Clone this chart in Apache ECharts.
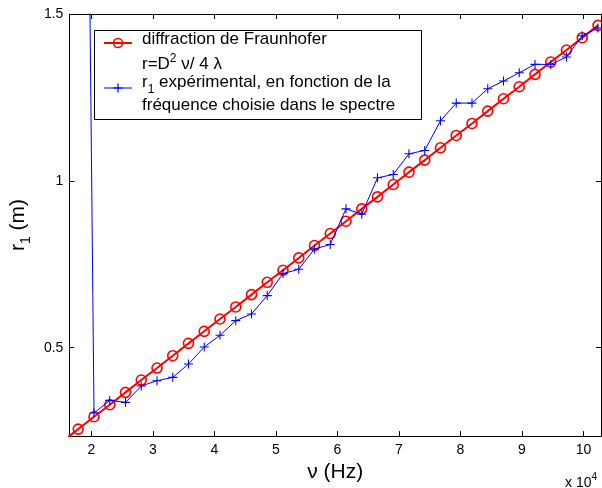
<!DOCTYPE html>
<html><head><meta charset="utf-8">
<script src="https://cdn.jsdelivr.net/npm/echarts@6/dist/echarts.min.js"></script>
<style>html,body{margin:0;padding:0;background:#fff}#c{width:602px;height:488px}</style>
</head><body><div id="c"></div>
<script>
// Frequencies (x 10^4 Hz)
const freqTheory = [1.531, 1.787, 2.043, 2.299, 2.555, 2.811, 3.067, 3.323, 3.579, 3.835, 4.091, 4.347, 4.603, 4.859, 5.115, 5.371, 5.627, 5.883, 6.139, 6.395, 6.651, 6.907, 7.163, 7.419, 7.675, 7.931, 8.187, 8.443, 8.699, 8.955, 9.211, 9.467, 9.723, 9.979, 10.235];
const rTheory = [0.219, 0.256, 0.293, 0.329, 0.366, 0.403, 0.439, 0.476, 0.513, 0.549, 0.586, 0.622, 0.659, 0.696, 0.732, 0.769, 0.806, 0.842, 0.879, 0.916, 0.952, 0.989, 1.026, 1.062, 1.099, 1.136, 1.172, 1.209, 1.246, 1.282, 1.319, 1.356, 1.392, 1.429, 1.466];
const freqExp = [1.787, 2.043, 2.299, 2.555, 2.811, 3.067, 3.323, 3.579, 3.835, 4.091, 4.347, 4.603, 4.859, 5.115, 5.371, 5.627, 5.883, 6.139, 6.395, 6.651, 6.907, 7.163, 7.419, 7.675, 7.931, 8.187, 8.443, 8.699, 8.955, 9.211, 9.467, 9.723, 9.979, 10.235];
const rExp = [5.0, 0.304, 0.342, 0.336, 0.385, 0.401, 0.411, 0.451, 0.502, 0.537, 0.581, 0.601, 0.656, 0.722, 0.735, 0.796, 0.809, 0.916, 0.900, 1.009, 1.019, 1.081, 1.091, 1.180, 1.233, 1.233, 1.276, 1.299, 1.324, 1.349, 1.349, 1.371, 1.435, 1.458];
const xTicks = [2, 3, 4, 5, 6, 7, 8, 9, 10];
const yTicks = [0.5, 1, 1.5];
const xRange = [1.6425, 10.284];
const yRange = [0.235, 1.5];
const seriesNames = ['diffraction de Fraunhofer', 'r1 expérimental'];

const FONT = 'Liberation Sans, Arial, Helvetica, sans-serif';
const chart = echarts.init(document.getElementById('c'), null, {renderer: 'canvas'});

const axisCommon = {
  type: 'value',
  axisLine: {show: true, onZero: false, lineStyle: {color: '#000', width: 1}},
  splitLine: {show: false},
  axisTick: {show: true, inside: true, length: 5, lineStyle: {color: '#000', width: 1}}
};
const plusPath = 'path://M4.4,0h1.2v4.4h4.4v1.2h-4.4v4.4h-1.2v-4.4h-4.4v-1.2h4.4z';

const option = {
  animation: false,
  backgroundColor: '#fff',
  grid: {left: 62, right: 1, top: 14, bottom: 48, containLabel: false},
  xAxis: [
    Object.assign({}, axisCommon, {
      position: 'bottom', min: xRange[0], max: xRange[1],
      axisTick: Object.assign({}, axisCommon.axisTick, {customValues: xTicks}),
      axisLabel: {show: true, customValues: xTicks, margin: 7, color: '#000', fontSize: 14, fontFamily: FONT},
      name: 'ν (Hz)', nameLocation: 'middle', nameGap: 25,
      nameTextStyle: {color: '#000', fontSize: 21, fontFamily: FONT}
    }),
    Object.assign({}, axisCommon, {
      position: 'top', min: xRange[0], max: xRange[1],
      axisTick: Object.assign({}, axisCommon.axisTick, {customValues: xTicks}),
      axisLabel: {show: false}
    })
  ],
  yAxis: [
    Object.assign({}, axisCommon, {
      position: 'left', min: yRange[0], max: yRange[1],
      axisTick: Object.assign({}, axisCommon.axisTick, {customValues: yTicks}),
      axisLabel: {show: true, customValues: yTicks, margin: 6, color: '#000', fontSize: 14, fontFamily: FONT,
        formatter: v => String(v)},
      name: '{n|r}{s|1}{n| (m)}', nameLocation: 'middle', nameGap: 23, nameRotate: 90,
      nameTextStyle: {color: '#000', fontSize: 21, fontFamily: FONT,
        rich: {n: {fontSize: 21, fontFamily: FONT, color: '#000', lineHeight: 21, verticalAlign: 'top'},
               s: {fontSize: 14, fontFamily: FONT, color: '#000', lineHeight: 14, padding: [11, 0, 0, 0], verticalAlign: 'top'}}}
    }),
    Object.assign({}, axisCommon, {
      position: 'right', min: yRange[0], max: yRange[1],
      axisTick: Object.assign({}, axisCommon.axisTick, {customValues: yTicks}),
      axisLabel: {show: false}
    })
  ],
  series: [
    {
      name: seriesNames[0], type: 'line', xAxisIndex: 0, yAxisIndex: 0, clip: true,
      data: freqTheory.map((f, i) => [f, rTheory[i]]),
      lineStyle: {color: '#ff0000', width: 2},
      symbol: 'circle', symbolSize: 10, showAllSymbol: true,
      itemStyle: {color: 'rgba(255,255,255,0)', borderColor: '#ff0000', borderWidth: 1.6},
      z: 2
    },
    {
      name: seriesNames[1], type: 'line', xAxisIndex: 0, yAxisIndex: 0, clip: true,
      data: freqExp.map((f, i) => [f, rExp[i]]),
      lineStyle: {color: '#0000ff', width: 1},
      symbol: plusPath, symbolSize: 9, showAllSymbol: true,
      itemStyle: {color: '#0000ff'},
      z: 3
    }
  ],
  graphic: [
    {type: 'rect', z: 10, shape: {x: 94.5, y: 30.5, width: 327, height: 89},
     style: {fill: '#fff', stroke: '#000', lineWidth: 1}},
    {type: 'line', z: 11, shape: {x1: 104, y1: 43, x2: 132, y2: 43}, style: {stroke: '#ff0000', lineWidth: 2}},
    {type: 'circle', z: 11, shape: {cx: 118, cy: 43, r: 4.5}, style: {fill: 'none', stroke: '#ff0000', lineWidth: 1.6}},
    {type: 'line', z: 11, shape: {x1: 104, y1: 88, x2: 132, y2: 88}, style: {stroke: '#0000ff', lineWidth: 1}},
    {type: 'line', z: 11, shape: {x1: 113.5, y1: 88, x2: 122.5, y2: 88}, style: {stroke: '#0000ff', lineWidth: 1.2}},
    {type: 'line', z: 11, shape: {x1: 118, y1: 83.5, x2: 118, y2: 92.5}, style: {stroke: '#0000ff', lineWidth: 1.2}},
    {type: 'text', z: 11, x: 142, y: 39, style: {text: 'diffraction de Fraunhofer', fill: '#000', fontSize: 17, fontFamily: FONT, verticalAlign: 'middle'}},
    {type: 'text', z: 11, x: 142, y: 53, style: {text: '{n|r=D}{s|2}{n| ν/ 4 λ}', fill: '#000', fontSize: 17, fontFamily: FONT,
      rich: {n: {fontSize: 17, fontFamily: FONT, lineHeight: 20, verticalAlign: 'bottom'},
             s: {fontSize: 12, fontFamily: FONT, lineHeight: 12, verticalAlign: 'top'}}}},
    {type: 'text', z: 11, x: 142, y: 74, style: {text: '{n|r}{s|1}{n| expérimental, en fonction de la}', fill: '#000', fontSize: 17, fontFamily: FONT,
      rich: {n: {fontSize: 17, fontFamily: FONT, lineHeight: 17, verticalAlign: 'top'},
             s: {fontSize: 12, fontFamily: FONT, lineHeight: 12, padding: [10, 0, 0, 0], verticalAlign: 'top'}}}},
    {type: 'text', z: 11, x: 142, y: 105, style: {text: 'fréquence choisie dans le spectre', fill: '#000', fontSize: 17, fontFamily: FONT, verticalAlign: 'middle'}},
    {type: 'text', z: 11, x: 565, y: 472, style: {text: '{n|x 10}{s|4}', fill: '#000', fontSize: 14, fontFamily: FONT,
      rich: {n: {fontSize: 14, fontFamily: FONT, lineHeight: 18, verticalAlign: 'bottom'},
             s: {fontSize: 10, fontFamily: FONT, lineHeight: 10, verticalAlign: 'top'}}}}
  ]
};
chart.setOption(option);
</script>
</body></html>
